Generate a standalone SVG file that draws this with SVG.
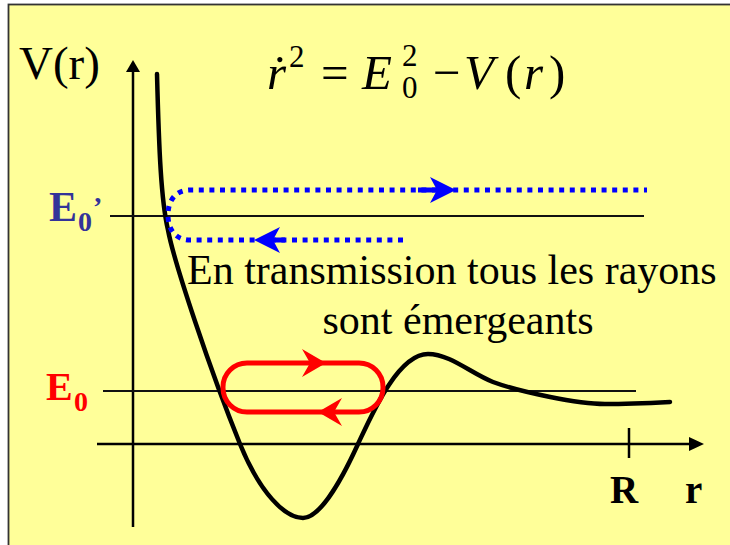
<svg xmlns="http://www.w3.org/2000/svg" width="730" height="545" viewBox="0 0 730 545">
  <defs>
    <style>
      .serif { font-family: "Liberation Serif", "DejaVu Serif", "Times New Roman", serif; }
      .it { font-style: italic; }
      .lbl { font-weight: bold; }
      .axis { stroke: #000; stroke-width: 2.5; fill: none; }
      .level { stroke: #111; stroke-width: 2; fill: none; }
      .curve { stroke: #000; stroke-width: 4.5; fill: none; stroke-linecap: round; stroke-linejoin: round; }
      .ray { stroke: #0000FF; stroke-width: 5; fill: none; stroke-dasharray: 5 5.6; }
      .orbit { stroke: #FF0000; stroke-width: 5; fill: none; }
    </style>
  </defs>

  <rect x="0" y="0" width="730" height="545" fill="#FFFFFF"/>
  <rect id="frame" x="8.5" y="4.5" width="740" height="560" fill="#FFFF99" stroke="#333333" stroke-width="1.8"/>

  <g id="formula" class="serif" font-size="49" fill="#000">
    <text x="267" y="89" class="it">ṙ</text>
    <text x="289" y="67" font-size="31">2</text>
    <text x="321" y="89">=</text>
    <text x="362" y="89" class="it">E</text>
    <text x="402" y="66" font-size="31">2</text>
    <text x="402" y="98" font-size="31">0</text>
    <text x="433" y="89">−</text>
    <text x="464" y="89" class="it">V</text>
    <text x="505" y="89">(</text>
    <text x="524" y="89" class="it">r</text>
    <text x="549" y="89">)</text>
  </g>

  <g id="axes">
    <line class="axis" x1="133" y1="527" x2="133" y2="68"/>
    <polygon points="133,60 126,72 140,72" fill="#000"/>
    <line class="axis" x1="97" y1="444" x2="692" y2="444"/>
    <polygon points="704,444 689,437 689,451" fill="#000"/>
    <line class="axis" x1="629" y1="428" x2="629" y2="458" stroke-width="2"/>
    <text id="label-V" class="serif" x="19" y="79" font-size="47">V(r)</text>
    <text id="label-R" class="serif lbl" x="610" y="503" font-size="39">R</text>
    <text id="label-r" class="serif lbl" x="685" y="503" font-size="39">r</text>
  </g>

  <g id="levels">
    <line class="level" x1="110" y1="216" x2="644" y2="216"/>
    <line class="level" x1="103" y1="391" x2="636" y2="391"/>
    <g id="label-E0prime" class="serif lbl" fill="#333399">
      <text x="49" y="221" font-size="42">E</text>
      <text x="78" y="231" font-size="28">0</text>
      <text x="93" y="216" font-size="28">’</text>
    </g>
    <g id="label-E0" class="serif lbl" fill="#FF0000">
      <text x="46" y="400" font-size="40">E</text>
      <text x="74" y="411" font-size="28">0</text>
    </g>
  </g>

  <g id="potential">
    <path class="curve" d="M157,74 C159,150 161,200 168,230 C174,262 210,370 240,444 C260,493 285,518 303,518 C318,518 338,488 358,444 C372,414 398,354 428,354 C450,354 472,374 493,382 C520,392 578,404 605,404 C630,404 650,403 670,402"/>
  </g>

  <g id="connectors">
    <g id="ray-transmission">
      <path class="ray" d="M403,240 L190,240 C176,240 168,230 168,215 C168,200 176,190 190,190 L647,190"/>
      <line x1="418" y1="190" x2="440" y2="190" stroke="#0000FF" stroke-width="5"/>
      <polygon points="456,190 430,177 437,190 430,203" fill="#0000FF"/>
      <line x1="262" y1="240" x2="285" y2="240" stroke="#0000FF" stroke-width="5"/>
      <polygon points="254,240 280,227 273,240 280,253" fill="#0000FF"/>
    </g>
    <g id="orbit-bound">
      <rect class="orbit" x="223" y="363" width="160" height="49" rx="24" ry="24"/>
      <polygon points="326,363 302,349 310,363 302,377" fill="#FF0000"/>
      <polygon points="318,412 342,398 334,412 342,426" fill="#FF0000"/>
    </g>
  </g>

  <g id="caption" class="serif" font-size="42" fill="#000">
    <text x="187" y="284">En transmission tous les rayons</text>
    <text x="458" y="334" text-anchor="middle">sont émergeants</text>
  </g>
</svg>
